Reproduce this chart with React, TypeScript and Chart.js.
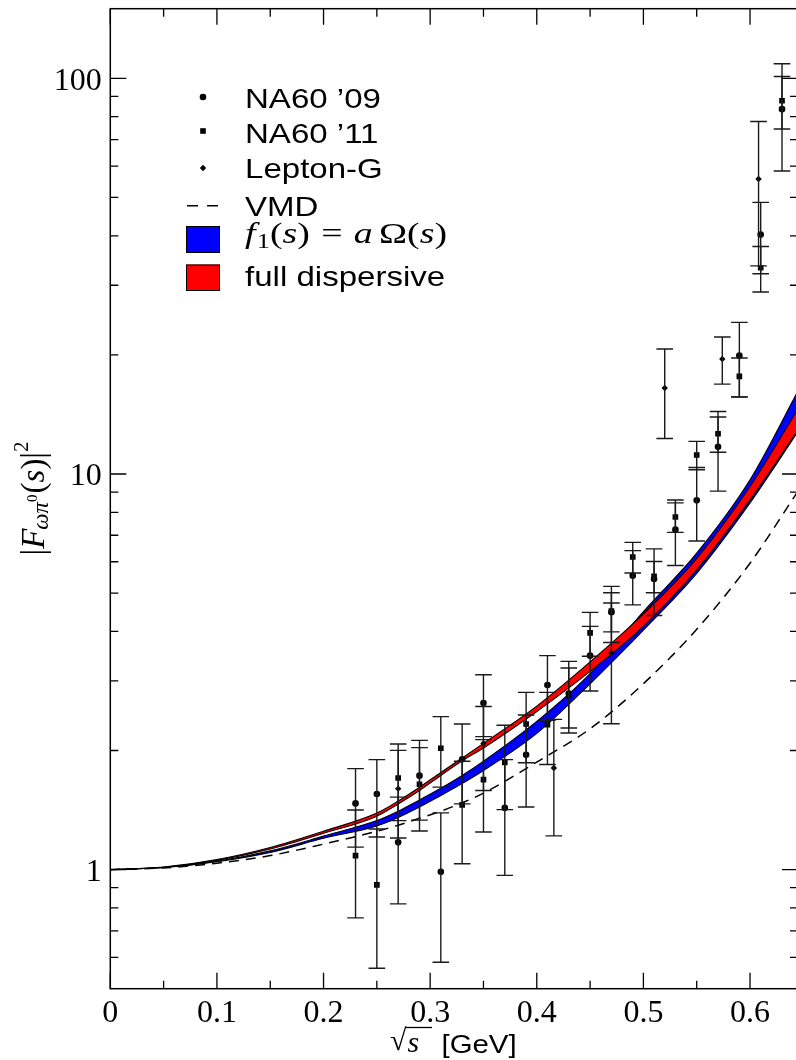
import React, { useEffect, useRef } from "react";
import { Chart, registerables } from "chart.js";
Chart.register(...registerables);

// ---------- data ----------
const curveX = [0, 0.05, 0.1, 0.15, 0.2, 0.25, 0.27, 0.29, 0.31, 0.33, 0.35, 0.4, 0.45, 0.5, 0.55, 0.6, 0.645];
const vmdY = [1, 1.01, 1.038, 1.085, 1.16, 1.25, 1.295, 1.348, 1.405, 1.475, 1.56, 1.87, 2.27, 2.95, 4.05, 5.95, 9.05];
const blueUpper = [1, 1.012, 1.05, 1.115, 1.215, 1.33, 1.405, 1.5, 1.605, 1.73, 1.88, 2.37, 3.13, 4.49, 6.31, 9.67, 16.2];
const blueLower = [1, 1.012, 1.047, 1.105, 1.2, 1.29, 1.355, 1.44, 1.54, 1.65, 1.78, 2.21, 2.95, 4.03, 5.61, 8.45, 12.8];
const redUpper = [1, 1.015, 1.06, 1.137, 1.25, 1.39, 1.49, 1.615, 1.76, 1.915, 2.085, 2.59, 3.35, 4.43, 6.12, 9.3, 14.6];
const redLower = [1, 1.014, 1.055, 1.127, 1.235, 1.365, 1.465, 1.585, 1.73, 1.885, 2.03, 2.51, 3.17, 4.12, 5.72, 8.6, 12.9];

const na09X = [0.23, 0.25, 0.27, 0.29, 0.31, 0.33, 0.35, 0.37, 0.39, 0.41, 0.43, 0.45, 0.47, 0.49, 0.51, 0.53, 0.55, 0.57, 0.59, 0.61, 0.63];
const na09Y = [1.47, 1.553, 1.172, 1.728, 0.987, 1.9, 2.638, 1.432, 1.95, 2.929, 2.787, 3.474, 4.475, 5.534, 5.428, 7.233, 8.578, 11.72, 19.91, 40.32, 83.6];
const na09E = [0.33, 0.344, 0.353, 0.394, 0.404, 0.434, 0.47, 0.465, 0.51, 0.545, 0.573, 0.646, 0.725, 0.866, 1.04, 1.36, 1.81, 2.67, 4.25, 8.26, 25.3];

const na11X = [0.23, 0.25, 0.27, 0.29, 0.31, 0.33, 0.35, 0.37, 0.39, 0.41, 0.43, 0.45, 0.47, 0.49, 0.51, 0.53, 0.55, 0.57, 0.59, 0.61, 0.63];
const na11Y = [1.085, 0.915, 1.704, 1.643, 2.026, 1.457, 1.688, 1.867, 2.334, 2.325, 2.757, 3.965, 4.5, 6.169, 5.51, 7.785, 11.17, 12.64, 17.65, 33.22, 87.8];
const na11E = [0.33, 0.352, 0.374, 0.391, 0.41, 0.422, 0.443, 0.449, 0.472, 0.481, 0.477, 0.504, 0.51, 0.548, 0.5, 0.665, 0.92, 1.29, 2.0, 4.38, 13.3];

const lepX = [0.27, 0.35, 0.416, 0.47, 0.52, 0.574, 0.608];
const lepY = [1.602, 2.085, 1.807, 3.528, 16.49, 19.53, 55.67];
const lepE = [0.4, 0.5, 0.59, 1.19, 4.2, 2.66, 22.1];

const xMajorTicks = [0, 0.1, 0.2, 0.3, 0.4, 0.5, 0.6];
const xMinorTicks = [0.05, 0.15, 0.25, 0.35, 0.45, 0.55];
const xTickLabels = ["0", "0.1", "0.2", "0.3", "0.4", "0.5", "0.6"];
const yMajorTicks = [1, 10, 100];
const yMinorTicks = [0.6, 0.7, 0.8, 0.9, 2, 3, 4, 5, 6, 7, 8, 9, 20, 30, 40, 50, 60, 70, 80, 90];
const yTickLabels = ["1", "10", "100"];

const legendLabels = ["NA60 \u201909", "NA60 \u201911", "Lepton-G", "VMD", "f1(s) = a \u03A9(s)", "full dispersive"];

// ---------- layout ----------
const CW = 802;
const CH = 1060;
const SERIF = '"Liberation Serif", "Times New Roman", serif';
const SANS = '"Liberation Sans", Arial, Helvetica, sans-serif';

const pts = (xs: number[], ys: number[]) => xs.map((x, i) => ({ x, y: ys[i] }));

function sansText(ctx: CanvasRenderingContext2D, text: string, x: number, y: number, size: number, sx: number) {
  ctx.save();
  ctx.translate(x, y);
  ctx.scale(sx, 1);
  ctx.font = `${size}px ${SANS}`;
  ctx.textAlign = "left";
  ctx.textBaseline = "alphabetic";
  ctx.fillText(text, 0, 0);
  ctx.restore();
}

type Run = { t: string; f: string; dy?: number; gap?: number };
function runsWidth(ctx: CanvasRenderingContext2D, runs: Run[]) {
  let w = 0;
  for (const r of runs) {
    ctx.font = r.f;
    w += ctx.measureText(r.t).width + (r.gap || 0);
  }
  return w;
}
function drawRuns(ctx: CanvasRenderingContext2D, runs: Run[], x: number, y: number) {
  let cx = x;
  ctx.textAlign = "left";
  ctx.textBaseline = "alphabetic";
  for (const r of runs) {
    ctx.font = r.f;
    ctx.fillText(r.t, cx, y + (r.dy || 0));
    cx += ctx.measureText(r.t).width + (r.gap || 0);
  }
  return cx - x;
}

function drawMarker(ctx: CanvasRenderingContext2D, kind: string, x: number, y: number) {
  ctx.beginPath();
  if (kind === "circle") {
    ctx.arc(x, y, 3.3, 0, Math.PI * 2);
  } else if (kind === "rect") {
    ctx.rect(x - 2.8, y - 2.8, 5.6, 5.6);
  } else {
    ctx.moveTo(x - 3.2, y);
    ctx.lineTo(x, y - 3.2);
    ctx.lineTo(x + 3.2, y);
    ctx.lineTo(x, y + 3.2);
    ctx.closePath();
  }
  ctx.fill();
}

const errorSeries = [
  { xs: na09X, ys: na09Y, es: na09E },
  { xs: na11X, ys: na11Y, es: na11E },
  { xs: lepX, ys: lepY, es: lepE },
];

const decorPlugin = {
  id: "decor",
  afterDatasetsDraw(chart: any) {
    const { ctx, chartArea: a, scales } = chart;
    const xs = scales.x;
    const ys = scales.y;
    ctx.save();
    ctx.beginPath();
    ctx.rect(a.left, a.top, a.right - a.left, a.bottom - a.top);
    ctx.clip();
    ctx.strokeStyle = "#1a1a1a";
    ctx.lineWidth = 1.4;
    for (const s of errorSeries) {
      s.xs.forEach((xv, i) => {
        const px = xs.getPixelForValue(xv);
        const top = ys.getPixelForValue(s.ys[i] + s.es[i]);
        const lo = s.ys[i] - s.es[i];
        const bot = lo > 0 ? ys.getPixelForValue(lo) : a.bottom + 5;
        ctx.beginPath();
        ctx.moveTo(px, top);
        ctx.lineTo(px, bot);
        ctx.moveTo(px - 8.3, top);
        ctx.lineTo(px + 8.3, top);
        ctx.moveTo(px - 8.3, bot);
        ctx.lineTo(px + 8.3, bot);
        ctx.stroke();
      });
    }
    ctx.restore();
  },
  afterDraw(chart: any) {
    const { ctx, chartArea: a, scales } = chart;
    const xs = scales.x;
    const ys = scales.y;
    ctx.save();
    // frame
    ctx.strokeStyle = "#000";
    ctx.lineWidth = 1.5;
    ctx.strokeRect(a.left, a.top, a.right - a.left, a.bottom - a.top);
    // ticks
    ctx.lineWidth = 1.3;
    ctx.beginPath();
    const xt = (v: number, len: number) => {
      const p = xs.getPixelForValue(v);
      ctx.moveTo(p, a.bottom);
      ctx.lineTo(p, a.bottom - len);
      ctx.moveTo(p, a.top);
      ctx.lineTo(p, a.top + len);
    };
    const yt = (v: number, len: number) => {
      const p = ys.getPixelForValue(v);
      ctx.moveTo(a.left, p);
      ctx.lineTo(a.left + len, p);
      ctx.moveTo(a.right, p);
      ctx.lineTo(a.right - len, p);
    };
    xMajorTicks.forEach((v) => xt(v, 16));
    xMinorTicks.forEach((v) => xt(v, 8));
    yMajorTicks.forEach((v) => yt(v, 16));
    yMinorTicks.forEach((v) => yt(v, 8));
    ctx.stroke();

    // tick labels
    ctx.fillStyle = "#000";
    ctx.font = `32px ${SERIF}`;
    ctx.textBaseline = "alphabetic";
    ctx.textAlign = "center";
    xMajorTicks.forEach((v, i) => {
      ctx.fillText(xTickLabels[i], xs.getPixelForValue(v), a.bottom + 33);
    });
    ctx.textAlign = "right";
    yMajorTicks.forEach((v, i) => {
      ctx.fillText(yTickLabels[i], a.left - 8.6, ys.getPixelForValue(v) + 11.5);
    });

    // x title: sqrt(s) [GeV]
    ctx.font = `30px ${SERIF}`;
    ctx.textAlign = "left";
    const rx = 390;
    ctx.fillText("\u221A", rx, 1050);
    const rw = ctx.measureText("\u221A").width;
    ctx.font = `italic 30px ${SERIF}`;
    const sx0 = rx + rw + 1;
    ctx.fillText("s", sx0, 1052);
    const sw = ctx.measureText("s").width;
    ctx.lineWidth = 1.3;
    ctx.beginPath();
    ctx.moveTo(rx + rw - 1, 1027.5);
    ctx.lineTo(Math.max(432, sx0 + sw + 2), 1027.5);
    ctx.stroke();
    sansText(ctx, "[GeV]", 441.5, 1052.7, 26, 1.13);

    // y title: |F_{ωπ0}(s)|^2
    const yRuns: Run[] = [
      { t: "|", f: `33px ${SERIF}` },
      { t: "F", f: `italic 33px ${SERIF}`, gap: -1 },
      { t: "\u03C9\u03C0", f: `italic 23px ${SERIF}`, dy: 4 },
      { t: "0", f: `15px ${SERIF}`, dy: -7, gap: 1 },
      { t: "(", f: `33px ${SERIF}` },
      { t: "s", f: `italic 33px ${SERIF}` },
      { t: ")", f: `33px ${SERIF}` },
      { t: "|", f: `33px ${SERIF}` },
      { t: "2", f: `21px ${SERIF}`, dy: -16 },
    ];
    ctx.save();
    ctx.translate(44, 498.5);
    ctx.rotate(-Math.PI / 2);
    const yw = runsWidth(ctx, yRuns);
    drawRuns(ctx, yRuns, -yw / 2, 0);
    ctx.restore();

    // legend
    const lx = 203;
    ctx.fillStyle = "#000";
    drawMarker(ctx, "circle", lx, 97);
    drawMarker(ctx, "rect", lx, 131);
    drawMarker(ctx, "diamond", lx, 168);
    ctx.lineWidth = 1.5;
    ctx.beginPath();
    ctx.moveTo(187, 205.7);
    ctx.lineTo(198, 205.7);
    ctx.moveTo(207, 205.7);
    ctx.lineTo(218, 205.7);
    ctx.stroke();
    ctx.lineWidth = 1;
    ctx.fillStyle = "#0000ff";
    ctx.fillRect(186, 226, 34, 27);
    ctx.strokeRect(186.5, 226.5, 33, 26);
    ctx.fillStyle = "#ff0000";
    ctx.fillRect(186, 264.5, 34, 26.5);
    ctx.strokeRect(186.5, 265, 33, 25.5);
    ctx.fillStyle = "#000";
    sansText(ctx, legendLabels[0], 245, 108.3, 28, 1.18);
    sansText(ctx, legendLabels[1], 245, 142.5, 28, 1.18);
    sansText(ctx, legendLabels[2], 245, 177.5, 28, 1.18);
    sansText(ctx, legendLabels[3], 245, 216, 28, 1.18);
    sansText(ctx, legendLabels[5], 245, 286, 28, 1.18);
    // math legend: f1(s) = a Ω(s)
    const mRuns: Run[] = [
      { t: "f", f: `italic 30px ${SERIF}`, gap: 1 },
      { t: "1", f: `21px ${SERIF}`, dy: 5 },
      { t: "(", f: `30px ${SERIF}` },
      { t: "s", f: `italic 30px ${SERIF}` },
      { t: ")", f: `30px ${SERIF}`, gap: 9 },
      { t: "=", f: `30px ${SERIF}`, gap: 9 },
      { t: "a", f: `italic 30px ${SERIF}`, gap: 5 },
      { t: "\u03A9", f: `30px ${SERIF}` },
      { t: "(", f: `30px ${SERIF}` },
      { t: "s", f: `italic 30px ${SERIF}` },
      { t: ")", f: `30px ${SERIF}` },
    ];
    const mw = runsWidth(ctx, mRuns);
    ctx.save();
    ctx.translate(245, 243);
    ctx.scale(202 / mw, 1);
    drawRuns(ctx, mRuns, 0, 0);
    ctx.restore();

    ctx.restore();
  },
};

export default function App() {
  const ref = useRef<HTMLCanvasElement>(null);
  useEffect(() => {
    if (!ref.current) return;
    const lineBase = {
      showLine: true,
      pointRadius: 0,
      borderColor: "#000",
      borderWidth: 1.1,
      cubicInterpolationMode: "monotone" as const,
    };
    const chart = new Chart(ref.current, {
      type: "line",
      data: {
        datasets: [
          { ...lineBase, label: "blueUpper", data: pts(curveX, blueUpper), fill: "+1", backgroundColor: "#0000ff", order: 10 },
          { ...lineBase, label: "blueLower", data: pts(curveX, blueLower), fill: false, order: 9 },
          { ...lineBase, label: "redUpper", data: pts(curveX, redUpper), fill: "+1", backgroundColor: "#ff0000", order: 8 },
          { ...lineBase, label: "redLower", data: pts(curveX, redLower), fill: false, order: 7 },
          { ...lineBase, label: "VMD", data: pts(curveX, vmdY), fill: false, borderWidth: 1.5, borderDash: [10, 7], order: 6 },
          { label: "NA60 '09", data: pts(na09X, na09Y), showLine: false, pointStyle: "circle", pointRadius: 3.3, pointBackgroundColor: "#000", pointBorderColor: "#000", pointBorderWidth: 0, order: 3 },
          { label: "NA60 '11", data: pts(na11X, na11Y), showLine: false, pointStyle: "rect", pointRadius: 4, pointBackgroundColor: "#000", pointBorderColor: "#000", pointBorderWidth: 0, order: 2 },
          { label: "Lepton-G", data: pts(lepX, lepY), showLine: false, pointStyle: "rectRot", pointRadius: 3.2, pointBackgroundColor: "#000", pointBorderColor: "#000", pointBorderWidth: 0, order: 1 },
        ],
      },
      options: {
        animation: false,
        responsive: false,
        maintainAspectRatio: false,
        devicePixelRatio: 1,
        events: [],
        layout: { padding: { left: 110.3, top: 8.7, right: CW - 798, bottom: CH - 988.7 } },
        scales: {
          x: { type: "linear", min: 0, max: 0.645, display: false },
          y: { type: "logarithmic", min: 0.5, max: 150, display: false },
        },
        plugins: { legend: { display: false }, tooltip: { enabled: false } },
      },
      plugins: [decorPlugin],
    } as any);
    return () => chart.destroy();
  }, []);
  return (
    <div style={{ position: "absolute", left: 0, top: 0, width: 796, height: CH, overflow: "hidden", background: "#fff" }}>
      <canvas ref={ref} width={CW} height={CH} style={{ display: "block", width: CW, height: CH }} />
    </div>
  );
}
